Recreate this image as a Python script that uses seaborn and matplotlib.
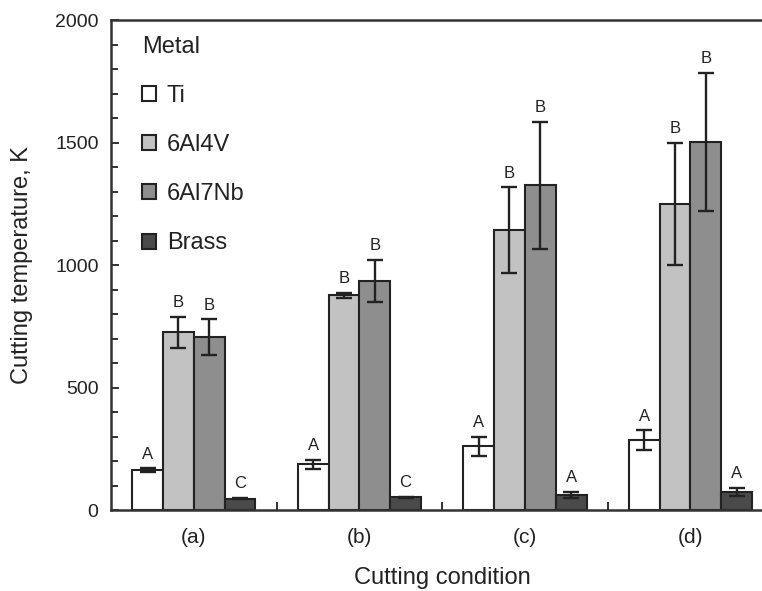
import pandas as pd
import seaborn as sns
import matplotlib.pyplot as plt
from matplotlib.ticker import MultipleLocator, FixedLocator

# 資料
conditions = ['(a)', '(b)', '(c)', '(d)']
metals = ['Ti', '6Al4V', '6Al7Nb', 'Brass']

ti_temp = [162, 186, 260, 285]
al4v_temp = [725, 876, 1142, 1250]
al7nb_temp = [705, 935, 1325, 1503]
brass_temp = [47, 52, 62, 73]

ti_err = [8, 20, 39, 40]
al4v_err = [65, 12, 175, 248]
al7nb_err = [73, 86, 258, 283]
brass_err = [3, 3, 12, 16]

ti_letters = ['A', 'A', 'A', 'A']
al4v_letters = ['B', 'B', 'B', 'B']
al7nb_letters = ['B', 'B', 'B', 'B']
brass_letters = ['C', 'C', 'A', 'A']

temps = [ti_temp, al4v_temp, al7nb_temp, brass_temp]
errs = [ti_err, al4v_err, al7nb_err, brass_err]
letters = [ti_letters, al4v_letters, al7nb_letters, brass_letters]

rows = []
for m, vals in zip(metals, temps):
    for c, v in zip(conditions, vals):
        rows.append({'condition': c, 'metal': m, 'temp': v})
df = pd.DataFrame(rows)

sns.set_style('ticks')
plt.rcParams['font.family'] = ['Liberation Sans', 'DejaVu Sans']
text_color = '#222222'
colors = ['#ffffff', '#c2c2c2', '#8e8e8e', '#4a4a4a']

fig = plt.figure(figsize=(7.62, 5.91), dpi=100)
ax = fig.add_axes([0.1457, 0.137, 0.869, 0.829])

sns.barplot(data=df, x='condition', y='temp', hue='metal', order=conditions,
            hue_order=metals, palette=colors, saturation=1, width=0.745, gap=0,
            edgecolor='#222222', linewidth=1.5, errorbar=None, ax=ax)

# 誤差線與字母標示
bar_groups = list(ax.containers)
for i, cont in enumerate(bar_groups):
    xs = [p.get_x() + p.get_width() / 2 for p in cont.patches]
    ax.errorbar(xs, temps[i], yerr=errs[i], fmt='none', ecolor='#222222',
                elinewidth=1.7, capsize=5.5, capthick=1.7, zorder=5)
    for x, v, e, t in zip(xs, temps[i], errs[i], letters[i]):
        ax.text(x, v + e + 28, t, ha='center', va='bottom', fontsize=12,
                color=text_color)

ax.set_xlim(-0.5, 3.5)
ax.set_ylim(0, 2000)
ax.yaxis.set_major_locator(MultipleLocator(500))
ax.yaxis.set_minor_locator(MultipleLocator(100))
ax.xaxis.set_minor_locator(FixedLocator([0.5, 1.5, 2.5]))

ax.tick_params(axis='y', which='major', direction='in', length=6, width=1.3,
               labelsize=14, pad=9, colors='#222222', labelcolor=text_color)
ax.tick_params(axis='y', which='minor', direction='in', length=5, width=1.3,
               colors='#222222')
ax.tick_params(axis='x', which='major', length=0, labelsize=15, pad=13,
               labelcolor=text_color)
ax.tick_params(axis='x', which='minor', direction='in', length=6, width=1.3,
               colors='#222222')

for s in ['left', 'bottom', 'top']:
    ax.spines[s].set_linewidth(1.8)
    ax.spines[s].set_color('#333333')
ax.spines['right'].set_visible(False)

ax.set_xlabel('Cutting condition', fontsize=17, color=text_color, labelpad=14)
ax.set_ylabel('Cutting temperature, K', fontsize=17, color=text_color, labelpad=16)

handles, labels = ax.get_legend_handles_labels()
leg = ax.legend(handles, labels, title='Metal', loc='upper left',
                bbox_to_anchor=(0.047, 0.968), borderaxespad=0, borderpad=0,
                frameon=False, fontsize=17, title_fontsize=17,
                labelspacing=1.15, handlelength=0.6, handleheight=0.6,
                handletextpad=0.45, alignment='left')
for h in leg.legend_handles:
    h.set_edgecolor('#222222')
    h.set_linewidth(1.5)
for t in leg.get_texts():
    t.set_color(text_color)
leg.get_title().set_color(text_color)

plt.savefig('out.png', dpi=100)
